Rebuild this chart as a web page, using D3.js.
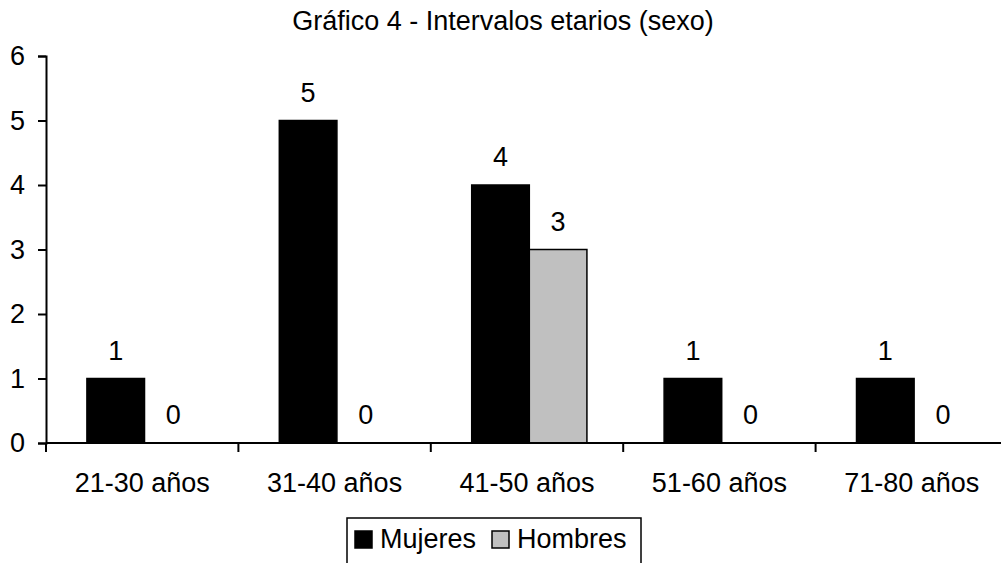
<!DOCTYPE html>
<html>
<head>
<meta charset="utf-8">
<script src="https://cdn.jsdelivr.net/npm/d3@7"></script>
<style>
  body { margin: 0; background: #fff; }
  text { font-family: "Liberation Sans", Arial, sans-serif; fill: #000; }
</style>
</head>
<body>
<div id="chart"></div>
<script>
var width = 1001
var height = 563

// data
var categories = ["21-30 años", "31-40 años", "41-50 años", "51-60 años", "71-80 años"]
var seriesNames = ["Mujeres", "Hombres"]
var mujeres = [1, 5, 4, 1, 1]
var hombres = [0, 0, 3, 0, 0]
var yTicks = [0, 1, 2, 3, 4, 5, 6]

var colors = {Mujeres: "#000000", Hombres: "#c0c0c0"}
var fontSize = "27px"

var svg = d3.select("#chart")
    .append("svg")
    .attr("width", width)
    .attr("height", height)

// plot area: y axis at x=46, groups 192.4 px wide (last one runs past the edge)
var x0 = d3.scaleBand()
    .domain(categories)
    .range([46, 46 + 5 * 192.4])

var x1 = d3.scaleBand()
    .domain(seriesNames)
    .range([0, x0.bandwidth()])
    .paddingOuter(0.67)
    .align(0.53)

var y = d3.scaleLinear()
    .domain([0, 6])
    .range([443, 56])

var rows = categories.map(function(c, i) {
    return {cat: c, values: [
        {key: "Mujeres", value: mujeres[i]},
        {key: "Hombres", value: hombres[i]}
    ]}
})

// title
svg.append("text")
    .attr("x", 503)
    .attr("y", 30)
    .attr("text-anchor", "middle")
    .style("font-size", fontSize)
    .text("Gráfico 4 - Intervalos etarios (sexo)")

// bars
var groups = svg.selectAll("g.grp")
    .data(rows)
    .enter()
    .append("g")
    .attr("class", "grp")
    .attr("transform", function(d) { return "translate(" + x0(d.cat) + ",0)" })

groups.selectAll("rect")
    .data(function(d) { return d.values.filter(function(v) { return v.value > 0 }) })
    .enter()
    .append("rect")
    .attr("x", function(d) { return x1(d.key) })
    .attr("width", x1.bandwidth())
    .attr("y", function(d) { return y(d.value) })
    .attr("height", function(d) { return y(0) - y(d.value) })
    .attr("fill", function(d) { return colors[d.key] })
    .attr("stroke", "#000")
    .attr("stroke-width", 1.5)

groups.selectAll("text.lbl")
    .data(function(d) { return d.values })
    .enter()
    .append("text")
    .attr("class", "lbl")
    .attr("x", function(d) { return x1(d.key) + x1.bandwidth() / 2 })
    .attr("y", function(d) { return y(d.value) - 19 })
    .attr("text-anchor", "middle")
    .style("font-size", fontSize)
    .text(function(d) { return d.value })

// y axis
var yAxis = svg.append("g")
    .attr("transform", "translate(46,0)")
    .call(d3.axisLeft(y).tickValues(yTicks).tickSize(8).tickPadding(13).tickFormat(d3.format("d")))
yAxis.select(".domain").attr("stroke-width", 2)
yAxis.selectAll(".tick line").attr("stroke-width", 2)
yAxis.selectAll(".tick text").style("font-size", fontSize).attr("font-family", null)

// x axis: ticks sit on the group boundaries
var xAxis = svg.append("g")
    .attr("transform", "translate(0," + y(0) + ")")
xAxis.append("line")
    .attr("x1", 46).attr("x2", width)
    .attr("stroke", "#000").attr("stroke-width", 2)
xAxis.selectAll("line.tk")
    .data(categories)
    .enter()
    .append("line")
    .attr("class", "tk")
    .attr("x1", function(d) { return x0(d) }).attr("x2", function(d) { return x0(d) })
    .attr("y1", 0).attr("y2", 9)
    .attr("stroke", "#000").attr("stroke-width", 2)
xAxis.selectAll("text")
    .data(categories)
    .enter()
    .append("text")
    .attr("x", function(d) { return x0(d) + x0.bandwidth() / 2 })
    .attr("y", 49)
    .attr("text-anchor", "middle")
    .style("font-size", fontSize)
    .text(function(d) { return d })

// legend
var legend = svg.append("g")
svg.append("rect")
    .attr("x", 347).attr("y", 518)
    .attr("width", 294).attr("height", 70)
    .attr("fill", "none").attr("stroke", "#000").attr("stroke-width", 1.5)

var legendX = [355, 492]
seriesNames.forEach(function(s, i) {
    legend.append("rect")
        .attr("x", legendX[i]).attr("y", 531)
        .attr("width", 17).attr("height", 17)
        .attr("fill", colors[s]).attr("stroke", "#000").attr("stroke-width", 1.5)
    legend.append("text")
        .attr("x", legendX[i] + 25).attr("y", 548)
        .style("font-size", fontSize)
        .text(s)
})
</script>
</body>
</html>
